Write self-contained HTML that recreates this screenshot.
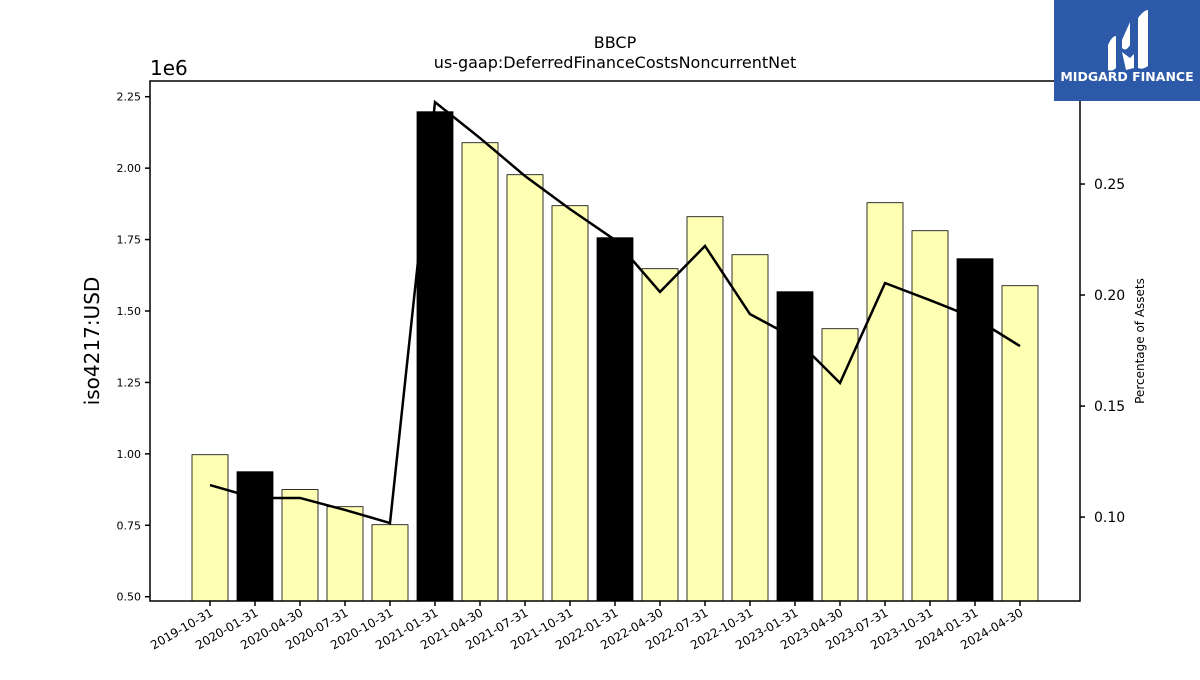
<!DOCTYPE html>
<html><head><meta charset="utf-8">
<style>
body{margin:0;background:#fff;}
svg text{font-family:"DejaVu Sans","Liberation Sans",sans-serif;}
</style></head>
<body>
<svg id="chart" width="1200" height="675" xmlns="http://www.w3.org/2000/svg">
<rect width="1200" height="675" fill="#fff"/>
<text x="615" y="48" font-size="16" text-anchor="middle">BBCP</text>
<text x="615" y="68" font-size="16" text-anchor="middle">us-gaap:DeferredFinanceCostsNoncurrentNet</text>
<text x="150" y="75" font-size="20">1e6</text>
<text transform="translate(99,341) rotate(-90)" font-size="20" text-anchor="middle">iso4217:USD</text>
<text transform="translate(1144,341) rotate(-90)" font-size="12" text-anchor="middle">Percentage of Assets</text>
<g id="bars"></g><g id="line"></g><g id="axes"></g>
<rect x="150" y="81" width="930" height="520" fill="none" stroke="#000" stroke-width="1.5"/>
<g>
<rect x="1054" y="0" width="146" height="101" fill="#2d5aa8"/>
<path d="M1108 45 Q1112 36 1116 36 L1116 68 Q1112 72 1108 70 Z" fill="#fff"/>
<path d="M1122 40 L1130 22 L1130 45 Q1126 52 1122 48 Z M1122 52 L1130 58 L1134 54 L1134 68 L1126 70 Z" fill="#fff"/>
<path d="M1138 18 Q1144 10 1148 10 L1148 66 Q1143 70 1138 68 Z" fill="#fff"/>
<text x="1127" y="81" font-size="12.5" font-weight="bold" fill="#fff" text-anchor="middle">MIDGARD FINANCE</text>
</g>
</svg>
<script>
const categories=["2019-10-31","2020-01-31","2020-04-30","2020-07-31","2020-10-31","2021-01-31","2021-04-30","2021-07-31","2021-10-31","2022-01-31","2022-04-30","2022-07-31","2022-10-31","2023-01-31","2023-04-30","2023-07-31","2023-10-31","2024-01-31","2024-04-30"];
const values=[0.997,0.9375,0.875,0.815,0.752,2.1975,2.089,1.977,1.8685,1.7565,1.648,1.83,1.697,1.5675,1.438,1.879,1.781,1.683,1.5885];
const pctAssets=[0.1144,0.1086,0.1086,0.1032,0.0973,0.2869,0.2707,0.2536,0.2387,0.2248,0.2014,0.2221,0.1914,0.1806,0.1604,0.2054,0.1977,0.1896,0.1770];
const leftTicks=[0.5,0.75,1.0,1.25,1.5,1.75,2.0,2.25];
const rightTicks=[0.10,0.15,0.20,0.25];
const NS="http://www.w3.org/2000/svg";
const X0=150,X1=1080,Y0=81,Y1=601;
const yL=v=>Y1-(v-0.485)/(2.305-0.485)*(Y1-Y0);
const yR=v=>Y1-(v-0.0622)/(0.2964-0.0622)*(Y1-Y0);
const xC=i=>210+i*45;
function mk(t,a,p){const e=document.createElementNS(NS,t);for(const k in a)e.setAttribute(k,a[k]);p.appendChild(e);return e;}
const bars=document.getElementById('bars'),line=document.getElementById('line'),axes=document.getElementById('axes');
values.forEach((v,i)=>{
  const black=categories[i].slice(5,7)==="01";
  const r=mk('rect',{x:xC(i)-18,y:yL(v),width:36,height:Y1-yL(v),fill:black?'#000':'#ffffb3',stroke:'#000','stroke-width':0.8},bars);
  
  
  mk('line',{x1:xC(i),x2:xC(i),y1:Y1,y2:Y1+5,stroke:'#000','stroke-width':1.5},axes);
  const t=mk('text',{transform:`translate(${xC(i)+4},${Y1+14}) rotate(-30)`,'font-size':12,'text-anchor':'end'},axes);
  t.textContent=categories[i];
  
  
});
const pl=mk('polyline',{points:pctAssets.map((v,i)=>xC(i)+','+yR(v)).join(' '),fill:'none',stroke:'#000','stroke-width':2.5},line);


leftTicks.forEach(v=>{
  mk('line',{x1:X0-5,x2:X0,y1:yL(v),y2:yL(v),stroke:'#000','stroke-width':1.5},axes);
  const t=mk('text',{x:X0-9,y:yL(v)+4,'font-size':11,'text-anchor':'end'},axes);
  t.textContent=v.toFixed(2);
  
  
});
rightTicks.forEach(v=>{
  mk('line',{x1:X1,x2:X1+5,y1:yR(v),y2:yR(v),stroke:'#000','stroke-width':1.5},axes);
  const t=mk('text',{x:X1+14,y:yR(v)+5,'font-size':14},axes);
  t.textContent=v.toFixed(2);
  
  
});
</script>
</body></html>
